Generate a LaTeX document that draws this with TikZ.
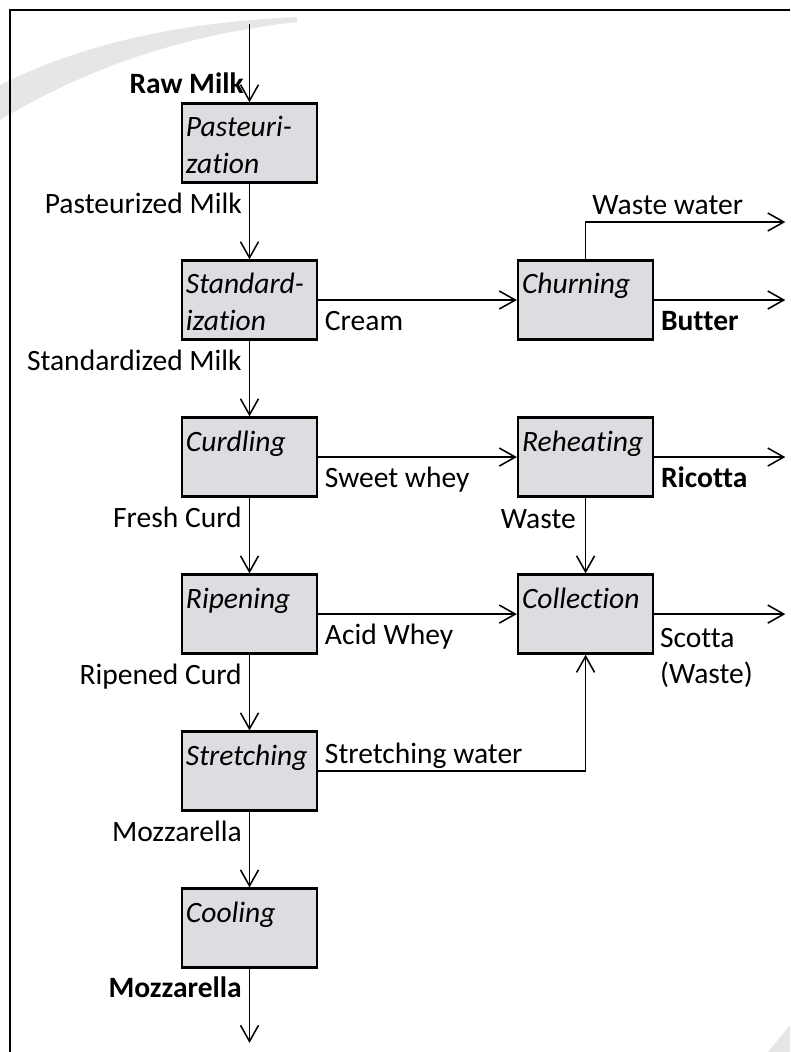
\documentclass[tikz,border=0pt]{standalone}
\usepackage{fontspec}
\setmainfont{Carlito}[Ligatures={NoCommon}]
\usetikzlibrary{arrows.meta,positioning}
\definecolor{Ink}{HTML}{000000}
\definecolor{Stage}{HTML}{DCDDE0}
\definecolor{Swoosh}{HTML}{E6E6E8}
\hyphenpenalty=10000

\begin{document}
\begin{tikzpicture}[
  x=0.025cm, y=-0.025cm,
  node distance=1.89cm and 4.965cm,
  font=\fontsize{21}{26}\selectfont,
  stage/.style={draw=Ink, line width=1.7pt, fill=Stage, minimum width=3.375cm, minimum height=1.975cm, text width=3.175cm, inner xsep=0.1cm, inner ysep=0pt, align=left, font=\fontsize{21}{26}\selectfont\itshape, execute at begin node={\rule{0pt}{17.4pt}}},
  flow/.style={-{Straight Barb[length=0.4cm,width=0.45cm]}, line width=1.1pt, draw=Ink},
  inlbl/.style={inner sep=0pt, anchor=base east, pos=0.39, xshift=-0.175cm},
  sidelbl/.style={inner sep=0pt, anchor=base west, pos=0, xshift=0.15cm, yshift=-0.76cm},
  toplbl/.style={inner sep=0pt, anchor=base west, xshift=0.15cm, yshift=0.2cm}
]
\useasboundingbox (0,0) rectangle (790,1052);
% page decoration and frame
\fill[Swoosh] (0,85) .. controls (90,40) and (190,22) .. (297,17) -- (297,22) .. controls (200,33) and (100,60) .. (0,120) -- cycle;
\fill[Swoosh] (790,1025) -- (768,1052) -- (790,1052) -- cycle;
\draw[line width=2.1pt] (10,1052) -- (10,10) -- (790,10);

% process stages
\node[stage] (past) at (249.5,143) {Pasteuri-\\zation};
\node[stage, below=of past] (stand) {Standard-\\ization};
\node[stage, below=of stand] (curd) {Curdling\\\mbox{}};
\node[stage, below=of curd] (ripen) {Ripening\\\mbox{}};
\node[stage, below=of ripen] (stretch) {Stretching\\\mbox{}};
\node[stage, below=of stretch] (cool) {Cooling\\\mbox{}};
\node[stage, right=of stand] (churn) {Churning\\\mbox{}};
\node[stage, right=of curd] (reheat) {Reheating\\\mbox{}};
\node[stage, right=of ripen] (coll) {Collection\\\mbox{}};

% free ends
\coordinate[above=1.95cm of past] (milkin);
\coordinate[below=1.85cm of cool] (mozzout);
\coordinate[right=3.275cm of churn] (butterout);
\coordinate[right=3.275cm of reheat] (ricottaout);
\coordinate[right=3.275cm of coll] (scottaout);
\coordinate[above=1.95cm of butterout] (wwout);

% main line
\draw[flow] (milkin) -- node[inlbl, pos=0.89, xshift=0.05cm]{\textbf{Raw Milk}} (past);
\draw[flow] (past) -- node[inlbl]{Pasteurized Milk} (stand);
\draw[flow] (stand) -- node[inlbl]{Standardized Milk} (curd);
\draw[flow] (curd) -- node[inlbl]{Fresh Curd} (ripen);
\draw[flow] (ripen) -- node[inlbl]{Ripened Curd} (stretch);
\draw[flow] (stretch) -- node[inlbl]{Mozzarella} (cool);
\draw[flow] (cool) -- node[inlbl]{\textbf{Mozzarella}} (mozzout);

% side streams
\draw[flow] (stand) -- node[sidelbl]{Cream} (churn);
\draw[flow] (curd) -- node[sidelbl]{Sweet whey} (reheat);
\draw[flow] (ripen) -- node[sidelbl]{Acid Whey} (coll);
\draw[flow] (stretch) -| node[toplbl, pos=0]{Stretching water} (coll);
\draw[flow] (churn.north) |- node[toplbl, pos=0.5]{Waste water} (wwout);
\draw[flow] (churn) -- node[sidelbl]{\textbf{Butter}} (butterout);
\draw[flow] (reheat) -- node[sidelbl]{\textbf{Ricotta}} (ricottaout);
\draw[flow] (reheat) -- node[inlbl, pos=0.4, xshift=-0.05cm]{Waste} (coll);
\draw[flow] (coll) -- node[pos=0, inner sep=0pt, anchor=north west, align=left, xshift=0.125cm, yshift=-0.325cm]{Scotta\\(Waste)} (scottaout);
\end{tikzpicture}
\end{document}
